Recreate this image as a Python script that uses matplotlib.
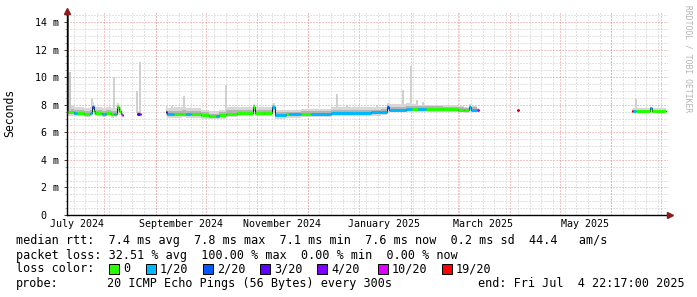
import numpy as np
import pandas as pd
import matplotlib
matplotlib.use("Agg")
import matplotlib.pyplot as plt
import matplotlib.dates as mdates
from matplotlib.collections import LineCollection
from matplotlib.patches import Rectangle

nan = np.nan

# graph window (smokeping "last 360 days")
start = pd.Timestamp("2024-07-09 22:17")
end = pd.Timestamp("2025-07-04 22:17")

# median rtt samples (ms), loss class (index into loss_labels) and smoke band
dates = pd.to_datetime([
    "2024-07-09 23:00", "2024-07-10 12:00", "2024-07-14 00:00", "2024-07-16 00:00",
    "2024-07-20 00:00", "2024-07-23 12:00", "2024-07-24 18:00", "2024-07-26 00:00",
    "2024-07-27 00:00", "2024-07-31 00:00", "2024-08-02 00:00", "2024-08-05 00:00",
    "2024-08-07 00:00", "2024-08-08 00:00", "2024-08-09 00:00", "2024-08-10 00:00",
    "2024-08-11 00:00", "2024-08-11 18:00", "2024-08-12 12:00",
    "2024-08-20 20:00", "2024-08-22 12:00", "2024-08-23 12:00",
    "2024-09-07 06:00", "2024-09-08 00:00", "2024-09-12 00:00", "2024-09-17 00:00",
    "2024-09-19 00:00", "2024-09-22 00:00", "2024-09-28 00:00", "2024-10-03 00:00",
    "2024-10-07 00:00", "2024-10-09 00:00", "2024-10-13 00:00", "2024-10-20 00:00",
    "2024-10-29 06:00", "2024-10-30 06:00", "2024-11-05 00:00", "2024-11-10 00:00",
    "2024-11-11 12:00", "2024-11-18 00:00", "2024-11-20 00:00", "2024-11-27 00:00",
    "2024-12-03 00:00", "2024-12-15 00:00", "2024-12-28 00:00", "2025-01-08 00:00",
    "2025-01-14 00:00", "2025-01-17 12:00", "2025-01-19 00:00", "2025-01-25 00:00",
    "2025-01-29 00:00", "2025-02-01 12:00", "2025-02-05 00:00", "2025-02-10 00:00",
    "2025-02-20 00:00", "2025-03-01 00:00", "2025-03-05 00:00", "2025-03-07 12:00",
    "2025-03-09 00:00", "2025-03-12 12:00", "2025-03-13 12:00",
    "2025-04-05 18:00", "2025-04-06 18:00",
    "2025-06-13 08:00", "2025-06-14 06:00", "2025-06-16 00:00", "2025-06-24 00:00",
    "2025-06-25 12:00", "2025-07-03 20:00",
])
median = [
    7.50, 7.45, 7.40, 7.40, 7.35, 7.40, 7.85, 7.55, 7.40, 7.35, 7.40, 7.30,
    7.35, 7.35, 7.85, 7.55, 7.35, 7.25, nan,
    7.35, 7.30, nan,
    7.45, 7.30, 7.30, 7.35, 7.30, 7.30, 7.25, 7.15, 7.15, 7.25, 7.35, 7.40,
    7.80, 7.40, 7.40, 7.85, 7.25, 7.30, 7.30, 7.35, 7.35, 7.40, 7.40, 7.45,
    7.50, 7.80, 7.65, 7.65, 7.70, 7.70, 7.70, 7.70, 7.70, 7.65, 7.60, 7.85,
    7.65, 7.65, nan,
    7.60, nan,
    7.55, 7.55, 7.55, 7.75, 7.55, nan,
]
loss = [
    6, 0, 1, 0, 0, 1, 2, 0, 0, 1, 0, 0,
    1, 0, 0, 0, 0, 5, 0,
    3, 5, 0,
    3, 1, 0, 0, 1, 0, 0, 0, 1, 0, 0, 0,
    0, 0, 0, 1, 1, 0, 1, 0, 1, 1, 1, 1,
    1, 2, 1, 1, 1, 0, 1, 0, 0, 0, 0, 1,
    1, 5, 0,
    6, 0,
    6, 1, 0, 1, 0, 0,
]
smoke_lo = [
    7.25, 7.20, 7.15, 7.15, 7.10, 7.15, 7.40, 7.25, 7.15, 7.10, 7.15, 7.05,
    7.10, 7.10, 7.30, 7.25, 7.10, 7.15, nan,
    7.25, 7.20, nan,
    7.20, 7.05, 7.05, 7.10, 7.05, 7.05, 7.00, 6.95, 6.95, 7.00, 7.10, 7.15,
    7.40, 7.15, 7.15, 7.40, 7.00, 7.05, 7.05, 7.10, 7.10, 7.15, 7.15, 7.20,
    7.25, 7.50, 7.45, 7.45, 7.50, 7.50, 7.50, 7.50, 7.50, 7.45, 7.40, 7.55,
    7.45, 7.55, nan,
    7.55, nan,
    7.45, 7.40, 7.40, 7.50, 7.40, nan,
]
smoke_hi = [
    8.00, 7.95, 7.80, 7.80, 7.75, 7.85, 8.20, 7.95, 7.80, 7.75, 7.80, 7.75,
    7.75, 7.75, 8.10, 7.90, 7.75, 7.45, nan,
    7.55, 7.50, nan,
    7.90, 7.75, 7.80, 7.85, 7.75, 7.75, 7.65, 7.55, 7.55, 7.65, 7.85, 7.85,
    8.05, 7.80, 7.80, 8.10, 7.60, 7.65, 7.65, 7.70, 7.70, 7.80, 7.80, 7.80,
    7.85, 8.15, 8.05, 8.05, 8.10, 8.05, 8.00, 8.00, 7.95, 7.90, 7.85, 8.05,
    7.90, 7.75, nan,
    7.65, nan,
    7.70, 7.75, 7.75, 7.85, 7.75, nan,
]
core_lo = [
    7.38, 7.33, 7.28, 7.28, 7.22, 7.28, 7.60, 7.40, 7.28, 7.22, 7.28, 7.18,
    7.22, 7.22, 7.55, 7.40, 7.22, 7.20, nan,
    7.30, 7.25, nan,
    7.30, 7.18, 7.18, 7.22, 7.18, 7.18, 7.12, 7.05, 7.05, 7.12, 7.22, 7.28,
    7.55, 7.28, 7.28, 7.60, 7.12, 7.18, 7.18, 7.22, 7.22, 7.28, 7.28, 7.32,
    7.38, 7.62, 7.55, 7.55, 7.60, 7.60, 7.60, 7.60, 7.60, 7.55, 7.50, 7.65,
    7.55, 7.60, nan,
    7.58, nan,
    7.50, 7.48, 7.48, 7.60, 7.48, nan,
]
core_hi = [
    7.75, 7.70, 7.60, 7.60, 7.55, 7.62, 8.00, 7.75, 7.60, 7.55, 7.60, 7.55,
    7.55, 7.55, 8.00, 7.75, 7.55, 7.35, nan,
    7.45, 7.40, nan,
    7.65, 7.55, 7.55, 7.60, 7.55, 7.55, 7.45, 7.35, 7.35, 7.45, 7.60, 7.60,
    7.95, 7.60, 7.60, 8.00, 7.45, 7.50, 7.50, 7.55, 7.55, 7.60, 7.60, 7.65,
    7.70, 8.00, 7.85, 7.85, 7.90, 7.90, 7.88, 7.88, 7.85, 7.80, 7.75, 7.95,
    7.80, 7.70, nan,
    7.62, nan,
    7.60, 7.65, 7.65, 7.80, 7.65, nan,
]

# single outlier pings sticking out of the smoke
spike_dates = pd.to_datetime([
    "2024-07-24 20:00", "2024-08-07 00:00", "2024-08-08 22:00", "2024-08-20 22:00",
    "2024-08-22 16:00", "2024-09-10 18:00", "2024-09-18 00:00", "2024-10-13 04:00",
    "2024-12-18 16:00", "2024-12-24 16:00", "2025-01-11 14:00", "2025-01-27 04:00",
    "2025-02-01 00:00", "2025-02-04 14:00", "2025-02-08 04:00", "2025-06-15 18:00",
])
spike_base = [7.8, 7.6, 7.8, 7.4, 7.4, 7.6, 7.6, 7.6, 7.6, 7.6, 7.7, 7.9, 7.9, 7.9, 7.9, 7.6]
spike_top = [8.5, 10.0, 8.0, 9.0, 11.1, 7.9, 8.6, 9.4, 8.8, 8.0, 8.0, 9.1, 10.8, 8.35, 8.2, 8.4]

# burst at the very start of the graph
burst_dates = pd.to_datetime(["2024-07-10 12:00", "2024-07-11 10:00"])
burst_top = [14.7, 10.4]

loss_labels = ["0", "1/20", "2/20", "3/20", "4/20", "10/20", "19/20"]
loss_colors = ["#26ff00", "#00b8ff", "#0059ff", "#5e00ff", "#7e00ff", "#dd00ff", "#ff0000"]

x_labels = ["July 2024", "September 2024", "November 2024",
            "January 2025", "March 2025", "May 2025"]
label_months = pd.to_datetime(["2024-07-01", "2024-09-01", "2024-11-01",
                               "2025-01-01", "2025-03-01", "2025-05-01"])

legend_lines = [
    "median rtt:  7.4 ms avg  7.8 ms max  7.1 ms min  7.6 ms now  0.2 ms sd  44.4   am/s",
    "packet loss: 32.51 % avg  100.00 % max  0.00 % min  0.00 % now",
    "loss color:",
    "probe:",
]
probe_text = "20 ICMP Echo Pings (56 Bytes) every 300s"
end_text = "end: Fri Jul  4 22:17:00 2025"

W, H = 697, 297
mono = "DejaVu Sans Mono"
fig = plt.figure(figsize=(W / 100, H / 100), dpi=100)
fig.patch.set_facecolor("white")
ax = fig.add_axes([67 / W, 82 / H, 601 / W, 204 / H])

x0, x1 = mdates.date2num(start), mdates.date2num(end)
ax.set_xlim(x0, x1)
ax.set_ylim(0, 14.8)

# grid (rrdtool style dotted lines)
dot = (0, (1, 2))
minor_c = "#c8c8c8"
major_c = "#e88c8c"
for wk in pd.date_range("2024-07-14", end, freq="W-SUN"):
    ax.axvline(mdates.date2num(wk), color=minor_c, lw=0.72, ls=dot, zorder=0)
for y in np.arange(0.5, 14.8, 0.5):
    if y % 2:
        ax.axhline(y, color=minor_c, lw=0.72, ls=dot, zorder=0)
for m in pd.date_range("2024-08-01", end, freq="MS"):
    ax.axvline(mdates.date2num(m), color=major_c, lw=0.72, ls=dot, zorder=0.5)
for y in range(2, 15, 2):
    ax.axhline(y, color=major_c, lw=0.72, ls=dot, zorder=0.5)

xn = mdates.date2num(dates)
med = np.array(median)
valid = ~np.isnan(med[:-1])
idx = np.where(valid)[0]
widths = np.diff(xn)

# smoke
ax.bar(xn[idx], np.array(smoke_hi)[idx] - np.array(smoke_lo)[idx], width=widths[idx],
       bottom=np.array(smoke_lo)[idx], align="edge", color="#d8d8d8", lw=0, zorder=1)
ax.bar(xn[idx], np.array(core_hi)[idx] - np.array(core_lo)[idx], width=widths[idx],
       bottom=np.array(core_lo)[idx], align="edge", color="#b4b4b4", lw=0, zorder=1.1)
sx = mdates.date2num(spike_dates)
ax.bar(sx, np.array(spike_top) - np.array(spike_base), width=0.9, bottom=spike_base,
       color="#d0d0d0", lw=0, zorder=0.9)
bx = mdates.date2num(burst_dates)
ax.bar(bx[1], burst_top[1] - 7.5, width=2.0, bottom=7.5, color="#c8c8c8", lw=0, zorder=1.2)
ax.bar(bx[0], burst_top[0] - 7.5, width=1.3, bottom=7.5, color="#606060", lw=0, zorder=1.3)

# median: thin dark line, then loss colored segments
ax.step(xn, med, where="post", color="#202020", lw=0.7, zorder=2)
segs = [[(xn[i], med[i]), (xn[i + 1], med[i])] for i in idx]
cols = [loss_colors[loss[i]] for i in idx]
ax.add_collection(LineCollection(segs, colors=cols, linewidths=2.2, capstyle="butt", zorder=3))

# axes
for s in ["top", "right"]:
    ax.spines[s].set_visible(False)
for s in ["left", "bottom"]:
    ax.spines[s].set_color("black")
    ax.spines[s].set_linewidth(1.0)
ax.set_yticks(range(0, 15, 2))
ax.set_yticks(np.arange(0.5, 14.8, 0.5), minor=True)
ax.set_yticklabels(["0  "] + ["%d m" % v for v in range(2, 15, 2)], fontsize=7.2, family=mono)
ax.tick_params(axis="y", which="major", length=2, width=0.7, pad=3.5, color="#444444")
ax.tick_params(axis="y", which="minor", length=1.5, width=0.6, color="#999999")
label_pos = mdates.date2num(label_months + pd.Timedelta(days=15))
ax.set_xticks(label_pos)
ax.set_xticklabels(x_labels, fontsize=7.2, family=mono)
ax.tick_params(axis="x", length=0, pad=3.2)
ax.plot(0, 1, marker="^", ms=4.5, color="#8b1c1c", transform=ax.transAxes, clip_on=False, zorder=5)
ax.plot(1.004, 0, marker=">", ms=4.5, color="#8b1c1c", transform=ax.transAxes, clip_on=False, zorder=5)

fig.text(10 / W, 1 - 113 / H, "Seconds", rotation=90, fontsize=8.3, family=mono,
         ha="center", va="center")
fig.text(688 / W, 1 - 5 / H, "RRDTOOL / TOBI OETIKER", rotation=270, fontsize=5.8,
         family=mono, color="#b4b4b4", ha="center", va="top")

# legend block
rows = [240.7, 255, 269, 283.3]
for y, t in zip(rows, legend_lines):
    fig.text(16 / W, 1 - y / H, t, fontsize=8.5, family=mono, va="center")
fig.text(107 / W, 1 - rows[3] / H, probe_text, fontsize=8.5, family=mono, va="center")
fig.text(478 / W, 1 - rows[3] / H, end_text, fontsize=8.5, family=mono, va="center")
box_x = [109, 146, 203, 260, 317, 378, 442]
for bxp, lab, c in zip(box_x, loss_labels, loss_colors):
    fig.add_artist(Rectangle((bxp / W, 1 - (rows[2] + 5) / H), 10 / W, 10 / H,
                             transform=fig.transFigure, fc=c, ec="black", lw=0.7))
    fig.text((bxp + 14) / W, 1 - rows[2] / H, lab, fontsize=8.5, family=mono, va="center")

fig.savefig("out.png", dpi=100)
